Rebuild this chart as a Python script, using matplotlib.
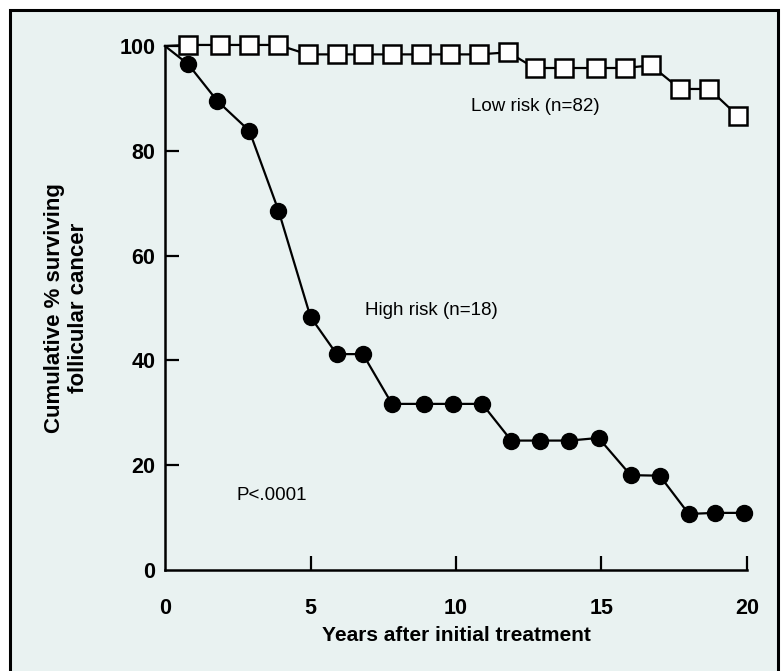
import matplotlib
matplotlib.use("Agg")
from matplotlib import pyplot as plt
from matplotlib.patches import Rectangle

# values
years_low = [0, 0.8, 1.9, 2.9, 3.9, 4.9, 5.9, 6.8, 7.8, 8.8, 9.8, 10.8, 11.8,
             12.7, 13.7, 14.8, 15.8, 16.7, 17.7, 18.7, 19.7]
surv_low = [100, 100.2, 100.2, 100.2, 100.2, 98.4, 98.4, 98.4, 98.4, 98.4, 98.4,
            98.4, 98.8, 95.8, 95.8, 95.8, 95.8, 96.3, 91.8, 91.8, 86.6]

years_high = [0, 0.8, 1.8, 2.9, 3.9, 5.0, 5.9, 6.8, 7.8, 8.9, 9.9, 10.9, 11.9,
              12.9, 13.9, 14.9, 16.0, 17.0, 18.0, 18.9, 19.9]
surv_high = [100, 96.5, 89.5, 83.8, 68.6, 48.3, 41.2, 41.2, 31.7, 31.7, 31.7, 31.7,
             24.7, 24.7, 24.7, 25.2, 18.1, 18.0, 10.7, 10.9, 10.9]

x_ticks = [0, 5, 10, 15, 20]
y_ticks = [0, 20, 40, 60, 80, 100]

bg = "#e9f2f1"
plt.rcParams["font.family"] = ["Liberation Sans", "DejaVu Sans"]

fig = plt.figure(figsize=(7.81, 6.71), dpi=100, facecolor="white")
# framed panel, cut off at the bottom like the source
fig.patches.append(Rectangle((10 / 781, -0.05), 1 - 13 / 781, 1 - 10 / 671 + 0.05,
                             transform=fig.transFigure, facecolor=bg,
                             edgecolor="black", linewidth=2.2, zorder=-1))

ax = fig.add_axes([165 / 781, 1 - 570 / 671, (747 - 165) / 781, (570 - 46) / 671])
ax.set_facecolor("none")

ax.plot(years_high, surv_high, color="black", lw=1.6, marker="o", ms=11.5,
        mfc="black", mec="black", markevery=list(range(1, len(years_high))),
        clip_on=False, zorder=3)
ax.plot(years_low, surv_low, color="black", lw=1.6, marker="s", ms=12.5,
        mfc="white", mec="black", mew=1.8, markevery=list(range(1, len(years_low))),
        clip_on=False, zorder=4)

ax.set_xlim(0, 20)
ax.set_ylim(0, 100)
ax.spines["top"].set_visible(False)
ax.spines["right"].set_visible(False)
for s in ("left", "bottom"):
    ax.spines[s].set_linewidth(1.8)

ax.set_xticks(x_ticks)
ax.set_yticks(y_ticks)
ax.tick_params(axis="both", direction="in", length=10, width=1.6, labelsize=15.5)
ax.tick_params(axis="x", pad=20)
ax.tick_params(axis="y", pad=7)
for lab in ax.get_xticklabels() + ax.get_yticklabels():
    lab.set_fontweight("bold")
# no tick mark at the origin
ax.xaxis.get_major_ticks()[0].tick1line.set_visible(False)
ax.yaxis.get_major_ticks()[0].tick1line.set_visible(False)

ax.set_xlabel("Years after initial treatment", fontsize=15, fontweight="bold", labelpad=5)
ax.set_ylabel("Cumulative % surviving\nfollicular cancer", fontsize=16,
              fontweight="bold", labelpad=22)

ax.text(10.5, 88.5, "Low risk (n=82)", fontsize=13.5, va="center")
ax.text(6.87, 49.6, "High risk (n=18)", fontsize=13.5, va="center")
ax.text(2.44, 14.3, "P<.0001", fontsize=13.5, va="center")

fig.savefig("out.png", dpi=100, facecolor="white")
